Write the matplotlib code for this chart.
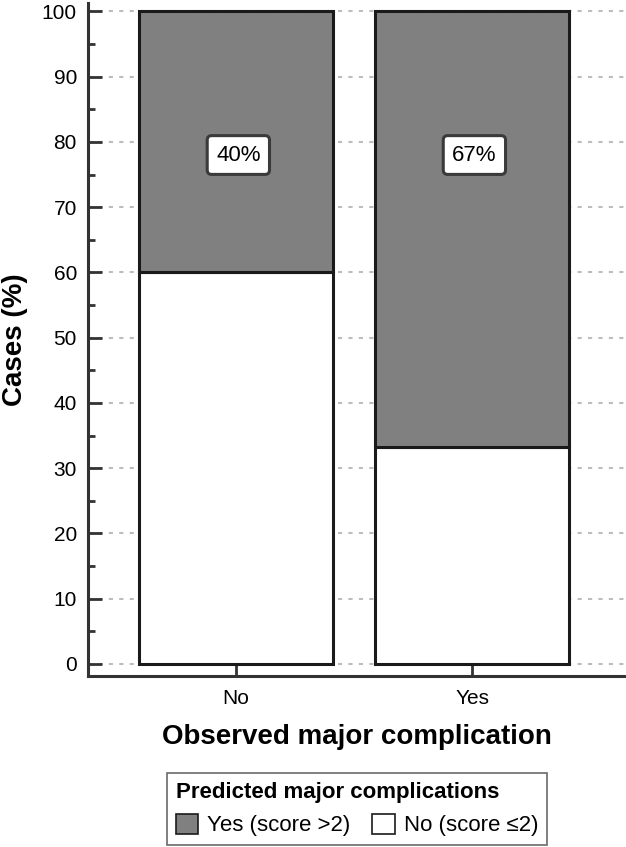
import matplotlib
matplotlib.use("Agg")
import matplotlib.pyplot as plt
from matplotlib.patches import Patch
from matplotlib.ticker import MultipleLocator

plt.rcParams['font.family'] = ['Liberation Sans', 'DejaVu Sans']

categories = ["No", "Yes"]
pred_no = [60.0, 33.3]      # No (score <=2)
pred_yes = [40.0, 66.7]     # Yes (score >2)
box_labels = ["40%", "67%"]
label_y = 78

fig = plt.figure(figsize=(6.26, 8.47), dpi=100)
ax = fig.add_axes([88/626, 1-676/847, (625-88)/626, (676-3)/847])

x = list(range(len(categories)))
edge = "#1a1a1a"
grey = "#808080"
ax.bar(x, pred_no, width=0.82, color="white", edgecolor=edge, linewidth=2.2, zorder=3)
ax.bar(x, pred_yes, width=0.82, bottom=pred_no, color=grey, edgecolor=edge, linewidth=2.2, zorder=3)

for xi, lab in zip(x, box_labels):
    ax.text(xi + 0.01, label_y, lab, ha="center", va="center", fontsize=16, zorder=5,
            bbox=dict(boxstyle="round,pad=0.4,rounding_size=0.2", fc="white", ec="#3a3a3a", lw=2.2))

ax.set_xlim(-0.627, 1.648)
ax.set_ylim(-1.85, 101.3)
ax.yaxis.set_major_locator(MultipleLocator(10))
ax.yaxis.set_minor_locator(MultipleLocator(5))
ax.set_xticks(x)
ax.set_xticklabels(categories, fontsize=15)
ax.tick_params(axis="y", which="major", direction="in", length=10, width=2, color="#333333", labelsize=15, pad=8)
ax.tick_params(axis="y", which="minor", direction="in", length=5, width=2, color="#333333")
ax.tick_params(axis="x", which="major", direction="in", length=9, width=2, color="#333333", pad=9)
ax.grid(axis="y", which="major", linestyle=(0, (2, 3)), color="#bdbdbd", linewidth=1.5, zorder=0)
ax.set_axisbelow(True)
for s in ["top", "right"]:
    ax.spines[s].set_visible(False)
for s in ["left", "bottom"]:
    ax.spines[s].set_linewidth(2.2)
    ax.spines[s].set_color("#333333")

ax.set_ylabel("Cases (%)", fontsize=20, fontweight="bold", labelpad=10)
ax.set_xlabel("Observed major complication", fontsize=20, fontweight="bold", labelpad=12)

handles = [Patch(facecolor=grey, edgecolor=edge, linewidth=1.2, label="Yes (score >2)"),
           Patch(facecolor="white", edgecolor=edge, linewidth=1.2, label="No (score \u22642)")]
leg = fig.legend(handles=handles, loc="lower center", bbox_to_anchor=(357/626, 0.002), ncol=2,
                 title="Predicted major complications", fontsize=16, title_fontsize=16,
                 frameon=True, fancybox=False, edgecolor="#444444", handlelength=1.0,
                 handleheight=1.0, handletextpad=0.4, columnspacing=1.0, borderpad=0.4,
                 borderaxespad=0.0, alignment="left")
leg.get_title().set_fontweight("bold")
leg.get_frame().set_linewidth(1.2)

fig.savefig("out.png", dpi=100)
